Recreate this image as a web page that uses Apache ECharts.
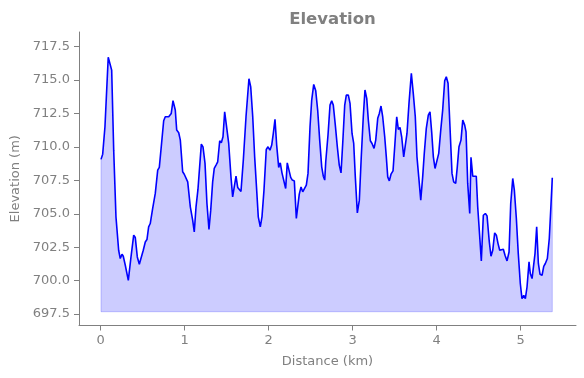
<!DOCTYPE html>
<html>
<head>
<meta charset="utf-8">
<script src="https://cdn.jsdelivr.net/npm/echarts@6/dist/echarts.min.js"></script>
<style>html,body{margin:0;padding:0;background:#fff}#c{width:584px;height:378px}</style>
</head>
<body>
<div id="c"></div>
<script>
const distKm = [0.004,0.024,0.051,0.090,0.111,0.131,0.155,0.182,0.214,0.233,0.254,0.269,0.293,0.329,0.361,0.393,0.412,0.436,0.460,0.483,0.507,0.531,0.551,0.571,0.590,0.619,0.650,0.679,0.698,0.721,0.750,0.769,0.789,0.810,0.825,0.840,0.861,0.869,0.888,0.905,0.929,0.948,0.976,0.995,1.015,1.036,1.067,1.095,1.114,1.135,1.158,1.179,1.198,1.218,1.242,1.265,1.289,1.310,1.333,1.352,1.373,1.393,1.417,1.436,1.456,1.476,1.495,1.524,1.551,1.571,1.590,1.611,1.631,1.650,1.670,1.698,1.730,1.765,1.786,1.810,1.833,1.857,1.876,1.900,1.920,1.944,1.971,1.992,2.015,2.036,2.055,2.075,2.095,2.119,2.138,2.158,2.179,2.202,2.221,2.242,2.262,2.281,2.305,2.329,2.349,2.364,2.385,2.405,2.424,2.448,2.468,2.492,2.512,2.536,2.560,2.583,2.607,2.631,2.650,2.667,2.679,2.706,2.730,2.750,2.769,2.793,2.817,2.840,2.861,2.881,2.905,2.924,2.948,2.968,2.992,3.012,3.031,3.055,3.079,3.102,3.126,3.146,3.167,3.186,3.210,3.230,3.254,3.274,3.298,3.317,3.337,3.357,3.381,3.400,3.417,3.436,3.456,3.480,3.500,3.524,3.543,3.563,3.583,3.607,3.626,3.646,3.670,3.698,3.721,3.745,3.765,3.786,3.810,3.833,3.852,3.876,3.900,3.920,3.940,3.960,3.980,4.000,4.024,4.048,4.071,4.095,4.114,4.135,4.158,4.182,4.202,4.226,4.245,4.265,4.289,4.310,4.333,4.349,4.369,4.393,4.408,4.429,4.448,4.471,4.488,4.512,4.531,4.555,4.579,4.599,4.619,4.626,4.646,4.667,4.690,4.710,4.730,4.750,4.769,4.793,4.813,4.837,4.861,4.881,4.905,4.924,4.948,4.971,4.995,5.015,5.036,5.055,5.075,5.099,5.114,5.135,5.150,5.170,5.190,5.210,5.230,5.254,5.274,5.293,5.317,5.340,5.361,5.376];
const elevM = [709.07,709.46,711.51,716.71,716.71,715.75,709.76,704.77,702.27,701.65,701.97,701.82,701.15,700.02,701.77,703.40,703.22,701.77,701.22,701.28,702.27,702.89,703.07,704.02,704.27,705.40,706.52,708.26,708.47,710.01,711.96,712.26,712.14,712.26,712.14,712.51,713.46,713.38,712.76,711.26,711.06,710.51,708.14,707.96,707.89,707.39,705.52,704.52,703.64,705.52,706.82,706.71,710.21,710.01,708.77,705.77,703.82,705.27,707.39,708.39,708.64,708.89,710.46,710.31,710.76,712.63,712.63,710.26,707.76,706.26,707.01,707.81,706.97,706.89,706.67,709.01,712.26,715.10,714.50,712.26,709.26,706.77,704.77,704.02,704.77,706.77,709.81,710.01,709.76,710.14,711.01,712.06,710.14,708.47,708.81,708.06,708.02,706.89,708.81,708.81,707.72,707.52,707.46,704.65,704.77,706.47,707.01,706.64,706.64,707.14,708.02,711.51,713.51,714.68,714.20,712.76,710.51,708.51,707.81,707.52,708.89,710.89,713.13,713.46,713.13,711.63,710.01,708.64,708.06,710.26,713.13,713.88,713.88,713.26,711.01,710.26,707.76,705.07,706.02,709.26,712.26,714.26,713.63,712.01,710.46,710.26,709.89,710.51,712.14,712.51,713.06,712.26,710.76,709.26,707.76,707.46,707.96,708.21,710.01,712.26,711.31,711.46,710.76,709.26,709.39,711.01,713.26,715.51,714.01,712.26,709.26,707.76,706.02,707.76,709.52,711.39,712.38,712.63,711.13,709.26,708.39,708.51,709.52,711.26,712.76,714.95,715.25,714.76,711.51,708.02,707.39,707.27,708.51,710.01,710.51,712.01,711.63,711.13,707.27,705.02,709.22,707.81,707.87,707.81,705.52,703.27,701.47,704.89,705.02,704.84,704.82,702.89,701.82,702.27,703.57,703.40,702.77,702.27,702.40,702.35,701.90,701.47,702.14,705.77,707.64,706.77,704.65,702.02,699.78,698.65,698.90,698.65,699.52,701.40,700.53,700.15,700.02,702.02,704.02,701.28,700.47,700.40,701.07,701.28,701.65,703.15,705.77,707.69];
const xTicks = [0,1,2,3,4,5];
const yTicks = [697.5,700.0,702.5,705.0,707.5,710.0,712.5,715.0,717.5];
const fillBase = 697.67;

const gray = '#808080';
const font = 'DejaVu Sans';
const lineData = distKm.map((d,i)=>[d, elevM[i]]);
const n = distKm.length;
const edgeData = [[distKm[0], elevM[0]],[distKm[0], fillBase],[distKm[n-1], fillBase],[distKm[n-1], elevM[n-1]]];

const chart = echarts.init(document.getElementById('c'), null, {renderer:'canvas'});
chart.setOption({
  animation:false,
  backgroundColor:'#fff',
  title:{text:'Elevation', left:327.5, top:6, textAlign:'center',
    textStyle:{fontFamily:font, fontSize:16.5, fontWeight:'bold', color:gray}},
  grid:{left:79, right:8, top:32, bottom:52.5, containLabel:false},
  xAxis:{type:'value', min:-0.258, max:5.658,
    name:'Distance (km)', nameLocation:'middle', nameGap:30,
    nameTextStyle:{fontFamily:font, fontSize:13, color:gray},
    axisLine:{onZero:false, lineStyle:{color:gray, width:1}},
    axisTick:{show:true, length:5, customValues:xTicks, lineStyle:{color:gray}},
    axisLabel:{customValues:xTicks, margin:9, fontFamily:font, fontSize:13, color:gray, formatter:v=>String(v)},
    splitLine:{show:false}},
  yAxis:{type:'value', min:696.64, max:718.6,
    name:'Elevation (m)', nameLocation:'middle', nameGap:56,
    nameTextStyle:{fontFamily:font, fontSize:13, color:gray},
    axisLine:{show:true, onZero:false, lineStyle:{color:gray, width:1}},
    axisTick:{show:true, length:5, customValues:yTicks, lineStyle:{color:gray}},
    axisLabel:{customValues:yTicks, margin:9, fontFamily:font, fontSize:13, color:gray, formatter:v=>v.toFixed(1)},
    splitLine:{show:false}},
  series:[
    {type:'line', data:edgeData, symbol:'none', silent:true,
      lineStyle:{color:'rgba(0,0,255,0.2)', width:1}, z:1},
    {type:'line', data:lineData, symbol:'none', silent:true,
      lineStyle:{color:'#0000ff', width:1.6},
      areaStyle:{color:'rgba(0,0,255,0.2)', origin:fillBase, opacity:1}, z:2}
  ]
});
</script>
</body>
</html>
